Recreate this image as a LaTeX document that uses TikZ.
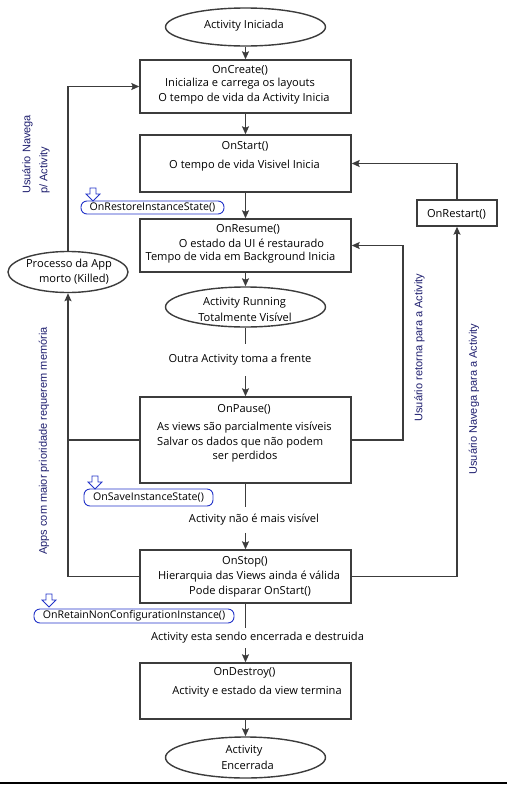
\documentclass[tikz,border=0pt]{standalone}
\usepackage{fontspec}
\usetikzlibrary{shapes.geometric,arrows.meta}
\newfontfamily\mainf{Open Sans}
\newfontfamily\arialf{Liberation Sans}
\definecolor{lc}{HTML}{3C3C3C}
\definecolor{calblue}{HTML}{2233C8}
\definecolor{navy}{HTML}{1E1E6E}
\newcommand\myhollow[1]{\draw[draw=calblue, line width=0.8pt, fill=white] (#1) ++(-3,0) -- ++(6,0) -- ++(0,6) -- ++(4,0) -- ++(-7,7) -- ++(-7,-7) -- ++(4,0) -- cycle;}
\tikzset{
  box/.style={draw=lc, line width=1.4pt, minimum width=211pt, inner sep=0pt},
  oval/.style={ellipse, draw=lc, line width=1.4pt, inner sep=0pt},
  txt/.style={font=\mainf\fontsize{11.1}{13}\selectfont, inner sep=0pt},
  flowlbl/.style={txt, inner xsep=0pt},
  conn/.style={draw=lc, line width=1.4pt},
  arr/.style={conn, -{Stealth[length=8pt,width=7pt,inset=1.5pt]}},
  callout/.style={draw=calblue, rounded corners=6pt, line width=0.9pt, inner sep=0pt, font=\mainf\fontsize{10.6}{12}\selectfont},
  vlabel/.style={font=\arialf\fontsize{11}{17}\selectfont, text=navy, rotate=90, inner sep=0pt}
}
\begin{document}
\begin{tikzpicture}[x=1pt,y=-1pt]
\useasboundingbox (0,0) rectangle (516,785);
% main flow shapes
\node[oval, minimum width=160pt, minimum height=38pt] (act) at (245.5,27) {};
\node[box, minimum height=53pt] (create) at (245.5,86.5) {};
\node[box, minimum height=57pt] (start) at (245.5,163.5) {};
\node[box, minimum height=53pt] (resume) at (245.5,245.5) {};
\node[oval, minimum width=160pt, minimum height=40pt] (running) at (245.5,307) {};
\node[box, minimum height=86pt] (pause) at (245.5,440) {};
\node[box, minimum height=53pt] (stop) at (245.5,576.5) {};
\node[box, minimum height=56pt] (destroy) at (245.5,691) {};
\node[oval, minimum width=160pt, minimum height=41pt] (fim) at (245.5,757.5) {};
\node[oval, minimum width=120pt, minimum height=41pt] (killed) at (68,272) {};
\node[draw=lc, line width=1.4pt, minimum width=80pt, minimum height=26pt, inner sep=0pt] (restart) at (457,213) {};
% texts in shapes
\node[txt] (tact) at (244,26) {Activity Iniciada};
\node[txt] (tc1) at (240,70) {OnCreate()};
\node[txt] (tc2) at (240,84) {Inicializa e carrega os layouts};
\node[txt] (tc3) at (244,99) {O tempo de vida da Activity Inicia};
\node[txt] (ts1) at (245,146) {OnStart()};
\node[txt] (ts2) at (244.5,166) {O tempo de vida Visivel Inicia};
\node[txt] (tr1) at (248,229) {OnResume()};
\node[txt] (tr2) at (251.5,243) {O estado da UI é restaurado};
\node[txt] (tr3) at (240.5,258) {Tempo de vida em Background Inicia};
\node[txt] (tu1) at (244.5,303) {Activity Running};
\node[txt] (tu2) at (245,317) {Totalmente Visível};
\node[txt] (tp1) at (244,409) {OnPause()};
\node[txt, anchor=west] (tp2) at (157,428) {As views são parcialmente visíveis};
\node[txt, anchor=west] (tp3) at (157,443) {Salvar os dados que não podem};
\node[txt] (tp4) at (245,457) {ser perdidos};
\node[txt] (tt1) at (245,562) {OnStop()};
\node[txt] (tt2) at (249,577) {Hierarquia das Views ainda é válida};
\node[txt] (tt3) at (250,592) {Pode disparar OnStart()};
\node[txt] (td1) at (244.5,673) {OnDestroy()};
\node[txt] (td2) at (257,692) {Activity e estado da view termina};
\node[txt] (te1) at (244,751) {Activity};
\node[txt] (te2) at (247.5,765) {Encerrada};
\node[txt] (tk1) at (69,265) {Processo da App};
\node[txt] (tk2) at (74,279) {morto (Killed)};
\node[txt] (trs) at (456.5,214) {OnRestart()};
% flow labels
\node[flowlbl, inner ysep=10.5pt] (l1) at (240,360) {Outra Activity toma a frente};
\node[flowlbl, inner ysep=7pt] (l2) at (254,520) {Activity não é mais visível};
\node[flowlbl, inner ysep=4.5pt] (l3) at (257.5,638) {Activity esta sendo encerrada e destruida};
% callouts
\node[callout, minimum width=143pt, minimum height=13pt] (cres) at (152.5,207.5) {OnRestoreInstanceState()};
\node[callout, minimum width=129pt, minimum height=17pt] (csav) at (148.5,497.5) {OnSaveInstanceState()};
\node[callout, minimum width=200pt, minimum height=14pt] (cret) at (134,616) {OnRetainNonConfigurationInstance()};
\coordinate (h1) at (93,188);
\coordinate (h2) at (95,476);
\coordinate (h3) at (49,594);
\myhollow{h1}
\myhollow{h2}
\myhollow{h3}
% rotated labels
\node[vlabel, anchor=north west, align=left] (v1) at (22,194) {Usuário Navega\\p/ Activity};
\node[vlabel] (v2) at (419.5,347.5) {Usuário retorna para a Activity};
\node[vlabel] (v3) at (474,399) {Usuário Navega para a Activity};
\node[vlabel] (v4) at (44,441) {Apps com maior prioridade requerem memória};
% connectors
\coordinate (rr) at (403,0);
\coordinate (ll) at (68,0);
\draw[arr] (act) -- (create);
\draw[arr] (create) -- (start);
\draw[arr] (start) -- (resume);
\draw[arr] (resume) -- (running);
\draw[conn] (running.south) -- (running.south |- l1.north);
\draw[arr] (running.south |- l1.south) -- (pause.north);
\draw[conn] (pause.south) -- (pause.south |- l2.north);
\draw[arr] (pause.south |- l2.south) -- (stop.north);
\draw[conn] (stop.south) -- (stop.south |- l3.north);
\draw[arr] (stop.south |- l3.south) -- (destroy.north);
\draw[arr] (destroy) -- (fim);
\draw[arr] (stop.east) -| (restart.south);
\draw[arr] (restart.north) |- (start.east);
\draw[arr] (pause.east) -- (pause.east -| rr) -- (resume.east -| rr) -- (resume.east);
\draw[arr] (stop.west) -- (stop.west -| ll) -- (killed.south);
\draw[conn] (pause.west) -- (pause.west -| ll);
\draw[arr] (killed.north) |- (create.west);
% bottom rule
\coordinate (b1) at (0,783);
\coordinate (b2) at (507,783);
\draw[black, line width=1.5pt] (b1) -- (b2);
\end{tikzpicture}
\end{document}
